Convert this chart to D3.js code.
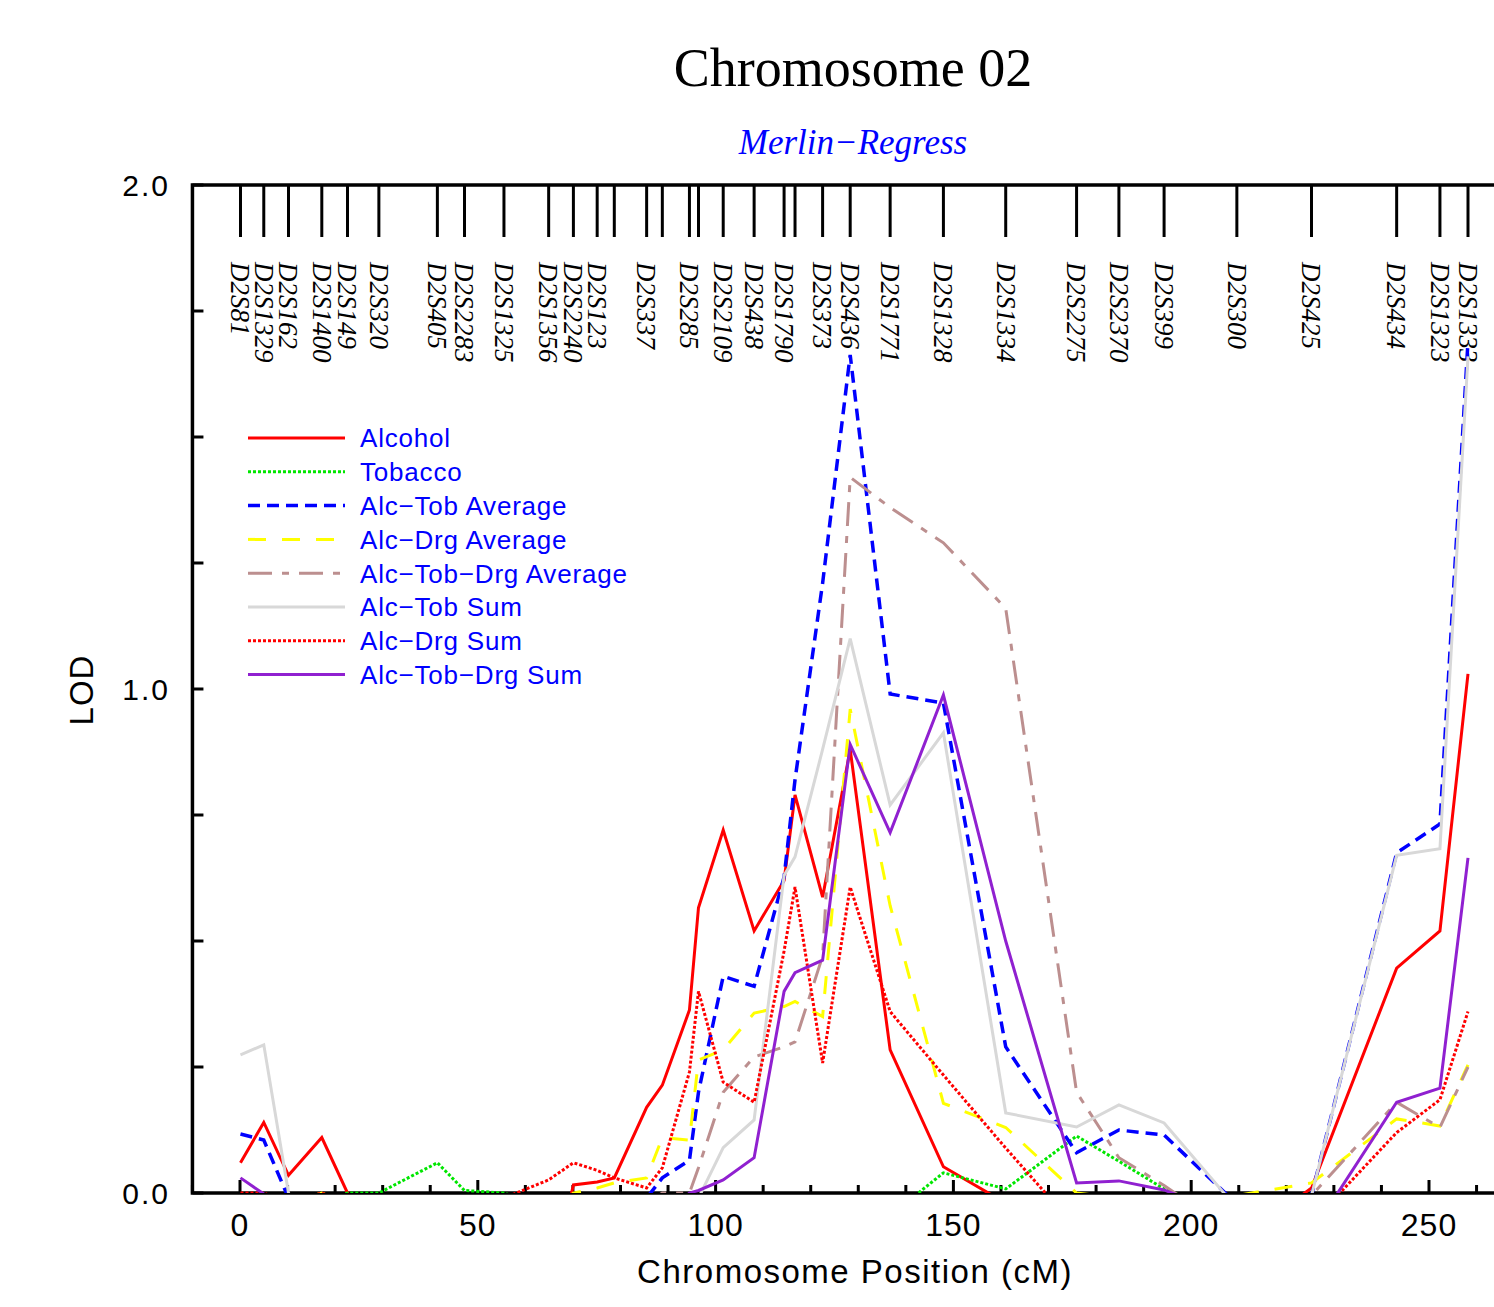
<!DOCTYPE html>
<html lang="en">
<head>
<meta charset="UTF-8">
<title>Chromosome 02</title>
<script src="https://cdnjs.cloudflare.com/ajax/libs/d3/7.8.5/d3.min.js"></script>
<style>
    body { margin: 0; background: #fff; }
    svg { display: block; }
    .sans { font-family: "Liberation Sans", Arial, Helvetica, sans-serif; }
    .serif { font-family: "Liberation Serif", "Times New Roman", Times, serif; }
</style>
</head>
<body>
<div id="chart"></div>
<script>
// marker map (cM) and names, "" where the reference prints no label
const positions = [0.1, 5.0, 10.2, 17.2, 22.6, 29.2, 41.5, 47.2, 55.5, 64.9, 70.1, 75.1, 78.7,
    85.5, 88.8, 94.5, 96.4, 101.6, 108.1, 114.4, 116.7, 122.5, 128.3, 136.7, 147.9, 161.0,
    175.9, 184.8, 194.3, 209.6, 225.3, 243.2, 252.3, 258.2];
const markers = ["D2S81", "D2S1329", "D2S162", "D2S1400", "D2S149", "D2S320", "D2S405", "D2S2283",
    "D2S1325", "D2S1356", "D2S2240", "D2S123", "", "D2S337", "", "D2S285", "", "D2S2109", "D2S438",
    "D2S1790", "", "D2S373", "D2S436", "D2S1771", "D2S1328", "D2S1334", "D2S2275", "D2S2370",
    "D2S399", "D2S300", "D2S425", "D2S434", "D2S1323", "D2S1333"];

// LOD values at each marker (negatives are clipped at 0 like the original)
const alcohol = [0.06, 0.14, 0.035, 0.11, 0.0, -0.1, -0.15, -0.15, -0.2, -0.2, 0.016, 0.022, 0.03,
    0.17, 0.214, 0.363, 0.566, 0.72, 0.52, 0.62, 0.79, 0.587, 0.88, 0.284, 0.052, -0.02,
    -0.1, -0.1, -0.1, -0.1, 0.01, 0.446, 0.52, 1.03];
const tobacco = [-0.05, -0.05, -0.05, -0.02, 0.0, 0.0, 0.06, 0.005, 0.0, -0.03, -0.05, -0.05, -0.05,
    -0.05, -0.05, -0.05, -0.05, -0.05, -0.05, -0.05, -0.05, -0.05, -0.05, -0.045, 0.04, 0.008,
    0.113, 0.063, 0.008, -0.05, -0.05, -0.05, -0.05, -0.05];
const alcTobAvg = [0.117, 0.105, -0.01, -0.1, -0.1, -0.1, -0.1, -0.1, -0.1, -0.1, -0.1, -0.1, -0.1,
    -0.01, 0.03, 0.065, 0.2, 0.43, 0.41, 0.627, 0.82, 1.21, 1.663, 0.99, 0.972, 0.29,
    0.08, 0.125, 0.115, -0.022, -0.005, 0.675, 0.732, 1.69];
const alcDrgAvg = [-0.02, -0.02, -0.02, 0.0, -0.02, -0.05, -0.05, -0.05, -0.05, -0.05, 0.0, 0.01, 0.02,
    0.03, 0.11, 0.105, 0.264, 0.284, 0.357, 0.37, 0.38, 0.35, 0.96, 0.57, 0.178, 0.13,
    0.0, -0.01, -0.02, -0.005, 0.02, 0.147, 0.133, 0.254];
const alcTobDrgAvg = [-0.05, -0.05, -0.05, -0.05, -0.05, -0.05, -0.05, -0.05, -0.05, -0.05, -0.05, -0.05, -0.05,
    -0.02, 0.0, 0.0, 0.05, 0.2, 0.27, 0.29, 0.3, 0.47, 1.42, 1.36, 1.29, 1.16,
    0.2, 0.07, 0.015, -0.085, -0.005, 0.18, 0.13, 0.25];
const alcTobSum = [0.274, 0.294, 0.0, -0.1, -0.1, -0.1, -0.1, -0.1, -0.1, -0.1, -0.1, -0.1, -0.1,
    -0.1, -0.1, -0.1, -0.01, 0.09, 0.145, 0.63, 0.667, 0.88, 1.1, 0.77, 0.913, 0.159,
    0.131, 0.175, 0.139, -0.03, -0.005, 0.67, 0.683, 1.66];
const alcDrgSum = [0.0, 0.0, -0.02, 0.0, -0.02, -0.03, -0.03, -0.03, -0.01, 0.026, 0.06, 0.045, 0.03,
    0.01, 0.05, 0.24, 0.4, 0.22, 0.18, 0.48, 0.607, 0.258, 0.607, 0.36, 0.234, 0.089,
    -0.07, -0.1, -0.1, -0.1, -0.06, 0.12, 0.185, 0.36];
const alcTobDrgSum = [0.03, -0.002, -0.05, -0.05, -0.05, -0.05, -0.05, -0.05, -0.05, -0.05, -0.05, -0.05, -0.05,
    -0.05, -0.05, 0.0, 0.005, 0.026, 0.07, 0.4, 0.437, 0.462, 0.89, 0.715, 0.988, 0.5,
    0.02, 0.024, 0.006, -0.05, -0.08, 0.18, 0.208, 0.665];

const seriesNames = ["Alcohol", "Tobacco", "Alc\u2212Tob Average", "Alc\u2212Drg Average",
    "Alc\u2212Tob\u2212Drg Average", "Alc\u2212Tob Sum", "Alc\u2212Drg Sum", "Alc\u2212Tob\u2212Drg Sum"];
const xTicks = [0, 50, 100, 150, 200, 250];
const yTicks = [0, 1, 2];

// line look for each series, same order as names
const looks = [
    {values: alcohol,      color: "#ff0000", width: 3,   dash: null},
    {values: tobacco,      color: "#00e600", width: 3,   dash: "3,2"},
    {values: alcTobAvg,    color: "#0000ff", width: 3.5, dash: "12,7"},
    {values: alcDrgAvg,    color: "#ffff00", width: 3,   dash: "18,16"},
    {values: alcTobDrgAvg, color: "#bc8f8f", width: 3,   dash: "24,10,7,10"},
    {values: alcTobSum,    color: "#d8d8d8", width: 3,   dash: null},
    {values: alcDrgSum,    color: "#ff0000", width: 3,   dash: "3,2"},
    {values: alcTobDrgSum, color: "#9020d0", width: 3,   dash: null}
];

const W = 1494, H = 1307;
const svg = d3.select("#chart").append("svg")
    .attr("width", W)
    .attr("height", H);

const x = d3.scaleLinear().domain([0, 250]).range([240, 1429]);
const y = d3.scaleLinear().domain([0, 2]).range([1193, 185]);
const x0 = x(-10), x1 = x(276), yTop = y(2), yBot = y(0);

// titles
svg.append("text").attr("class", "serif")
    .attr("x", 853).attr("y", 86)
    .attr("text-anchor", "middle")
    .style("font-size", "54px")
    .text("Chromosome 02");
svg.append("text").attr("class", "serif")
    .attr("x", 853).attr("y", 154)
    .attr("text-anchor", "middle")
    .style("font-size", "35px").style("font-style", "italic").style("fill", "#0000ff")
    .text("Merlin\u2212Regress");

// frame
svg.append("rect")
    .attr("x", x0).attr("y", yTop)
    .attr("width", x1 - x0).attr("height", yBot - yTop)
    .attr("fill", "none").attr("stroke", "#000").attr("stroke-width", 3.5);

// y ticks (inside)
svg.append("g").selectAll("line")
    .data(d3.range(0, 2.001, 0.25))
    .join("line")
    .attr("x1", x0).attr("x2", x0 + 11)
    .attr("y1", d => y(d)).attr("y2", d => y(d))
    .attr("stroke", "#000").attr("stroke-width", 3);

svg.append("g").selectAll("text")
    .data(yTicks)
    .join("text")
    .attr("class", "sans")
    .attr("x", 170).attr("y", d => y(d))
    .attr("dy", "0.36em")
    .attr("text-anchor", "end")
    .style("font-size", "30px").style("letter-spacing", "2px")
    .text(d => d.toFixed(1));

// x ticks (inside, pointing up)
svg.append("g").selectAll("line")
    .data(d3.range(-10, 271, 10))
    .join("line")
    .attr("x1", d => x(d)).attr("x2", d => x(d))
    .attr("y1", yBot).attr("y2", d => yBot - (d % 50 === 0 ? 13 : 8))
    .attr("stroke", "#000").attr("stroke-width", 3);

svg.append("g").selectAll("text")
    .data(xTicks)
    .join("text")
    .attr("class", "sans")
    .attr("x", d => x(d)).attr("y", 1236)
    .attr("text-anchor", "middle")
    .style("font-size", "32px").style("letter-spacing", "1px")
    .text(d => d);

svg.append("text").attr("class", "sans")
    .attr("x", 855).attr("y", 1283)
    .attr("text-anchor", "middle")
    .style("font-size", "33px").style("letter-spacing", "1.5px")
    .text("Chromosome Position (cM)");

svg.append("text").attr("class", "sans")
    .attr("transform", "translate(93,690) rotate(-90)")
    .attr("text-anchor", "middle")
    .style("font-size", "33px").style("letter-spacing", "1px")
    .text("LOD");

// marker ticks hanging from the top edge, with rotated names
svg.append("g").selectAll("line")
    .data(positions)
    .join("line")
    .attr("x1", d => x(d)).attr("x2", d => x(d))
    .attr("y1", yTop).attr("y2", 237)
    .attr("stroke", "#000").attr("stroke-width", 3);

svg.append("g").selectAll("text")
    .data(positions)
    .join("text")
    .attr("class", "serif")
    .attr("transform", d => `translate(${x(d)},262) rotate(90)`)
    .attr("dy", "0.34em")
    .style("font-size", "27px").style("font-style", "italic")
    .text((d, i) => markers[i]);

// curves
svg.append("clipPath").attr("id", "plotClip")
    .append("rect")
    .attr("x", x0).attr("y", yTop)
    .attr("width", x1 - x0).attr("height", yBot - yTop);

const line = d3.line()
    .x((d, i) => x(positions[i]))
    .y(d => y(d));

svg.append("g")
    .attr("clip-path", "url(#plotClip)")
    .selectAll("path")
    .data(looks)
    .join("path")
    .attr("d", d => line(d.values))
    .attr("fill", "none")
    .attr("stroke", d => d.color)
    .attr("stroke-width", d => d.width)
    .attr("stroke-dasharray", d => d.dash)
    .attr("stroke-linejoin", "miter");

// legend
const legend = svg.append("g");
const rowY = i => 438 + i * 33.8;
legend.selectAll("line")
    .data(looks)
    .join("line")
    .attr("x1", 248).attr("x2", 345)
    .attr("y1", (d, i) => rowY(i)).attr("y2", (d, i) => rowY(i))
    .attr("stroke", d => d.color)
    .attr("stroke-width", d => d.width)
    .attr("stroke-dasharray", d => d.dash);
legend.selectAll("text")
    .data(seriesNames)
    .join("text")
    .attr("class", "sans")
    .attr("x", 360).attr("y", (d, i) => rowY(i))
    .attr("dy", "0.36em")
    .style("font-size", "26px").style("fill", "#0000ff").style("letter-spacing", "0.8px")
    .text(d => d);
</script>
</body>
</html>
